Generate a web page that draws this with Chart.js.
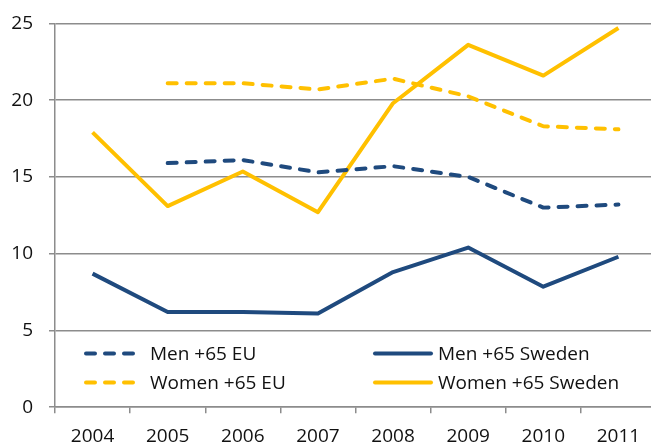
<!DOCTYPE html>
<html>
<head>
<meta charset="utf-8">
<script src="https://cdn.jsdelivr.net/npm/chart.js@4"></script>
<style>
  html, body { margin: 0; padding: 0; background: #fff; overflow: hidden; }
  #wrap { position: relative; width: 656px; height: 464px; margin-top: -4px; }
</style>
</head>
<body>
<div id="wrap"><canvas id="chart"></canvas></div>
<script>
(function () {
  // Data
  const years = ['2004', '2005', '2006', '2007', '2008', '2009', '2010', '2011'];
  const menEU = [null, 15.9, 16.1, 15.3, 15.7, 15.0, 13.0, 13.2];
  const womenEU = [null, 21.1, 21.1, 20.7, 21.4, 20.25, 18.3, 18.1];
  const menSweden = [8.7, 6.2, 6.2, 6.1, 8.8, 10.4, 7.85, 9.8];
  const womenSweden = [17.9, 13.1, 15.35, 12.7, 19.8, 23.6, 21.6, 24.7];

  const NAVY = '#1f4a7e';
  const GOLD = '#ffc000';
  const FONT = { family: '"Open Sans", sans-serif', size: 19 };

  const line = (label, data, color, dashed) => ({
    label, data,
    borderColor: color, backgroundColor: color,
    borderWidth: 4,
    borderDash: dashed ? [9, 10] : [],
    borderCapStyle: dashed ? 'round' : 'butt',
    borderJoinStyle: 'round',
    pointRadius: 0, tension: 0, fill: false
  });

  // Legend drawn inside the plot, 2 x 2 like the original
  const innerLegend = {
    id: 'innerLegend',
    afterDatasetsDraw(chart) {
      const ctx = chart.ctx;
      const a = chart.chartArea;
      const cols = [a.left + 31, a.left + 320];
      const rows = [a.top + 330, a.top + 359];
      chart.data.datasets.forEach((ds, i) => {
        const x = cols[i % 2], y = rows[Math.floor(i / 2)];
        const len = i % 2 ? 56 : 51;
        ctx.save();
        ctx.strokeStyle = ds.borderColor;
        ctx.lineWidth = 4;
        ctx.lineCap = 'round';
        ctx.setLineDash(ds.borderDash);
        ctx.beginPath();
        ctx.moveTo(x, y);
        ctx.lineTo(x + len, y);
        ctx.stroke();
        ctx.setLineDash([]);
        ctx.fillStyle = '#111';
        ctx.font = FONT.size + 'px ' + FONT.family;
        ctx.textBaseline = 'middle';
        ctx.fillText(ds.label, x + len + (i % 2 ? 7 : 13), y + 1);
        ctx.restore();
      });
    }
  };

  new Chart(document.getElementById('chart'), {
    type: 'line',
    data: {
      labels: years,
      datasets: [
        line('Men +65 EU', menEU, NAVY, true),
        line('Men +65 Sweden', menSweden, NAVY, false),
        line('Women +65 EU', womenEU, GOLD, true),
        line('Women +65 Sweden', womenSweden, GOLD, false)
      ]
    },
    options: {
      responsive: true,
      maintainAspectRatio: false,
      animation: false,
      layout: { padding: { left: 0, top: 10, right: 0, bottom: 0 } },
      plugins: { legend: { display: false }, tooltip: { enabled: false } },
      scales: {
        x: {
          offset: true,
          grid: { offset: true, drawOnChartArea: false, drawTicks: true, tickLength: 6, color: '#8c8c8c', lineWidth: 1.5 },
          border: { color: '#8c8c8c', width: 1.5 },
          ticks: { color: '#111', font: FONT, padding: 12, maxRotation: 0 }
        },
        y: {
          min: 0, max: 25,
          afterFit(scale) { scale.width = 55; },
          ticks: { stepSize: 5, color: '#111', font: FONT, padding: 16 },
          grid: { color: '#8c8c8c', lineWidth: 1.5, tickLength: 6 },
          border: { color: '#8c8c8c', width: 1.5 }
        }
      }
    },
    plugins: [innerLegend]
  });
})();
</script>
</body>
</html>
